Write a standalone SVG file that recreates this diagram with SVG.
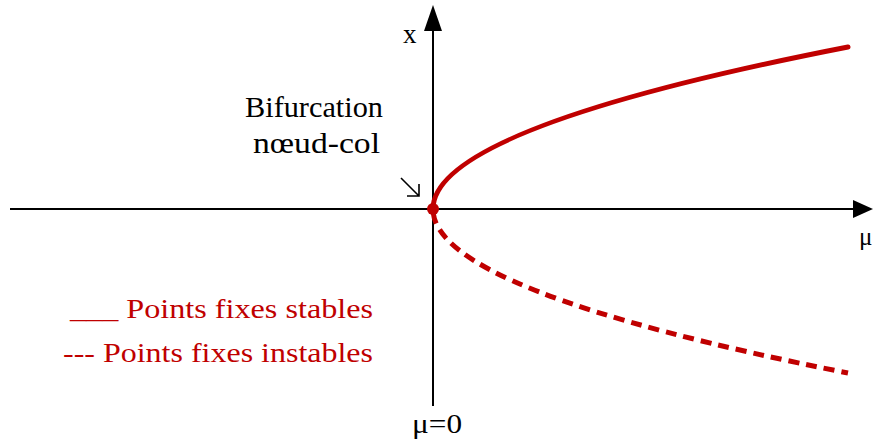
<svg xmlns="http://www.w3.org/2000/svg" width="873" height="443" viewBox="0 0 873 443">
<style>
.ax{stroke:#000;stroke-width:2;fill:none}
.t{font-family:"Liberation Serif","Times New Roman",serif;fill:#000}
.r{fill:#c00000}
.cv{stroke:#c00000;stroke-width:5;fill:none}
</style>
<rect width="873" height="443" fill="#fff"/>
<g id="axes">
<line class="ax" x1="10" y1="209" x2="856" y2="209"/>
<polygon points="853,200 873,209 853,218" fill="#000"/>
<line class="ax" x1="433" y1="406" x2="433" y2="28"/>
<polygon points="424,31 433,5 442,31" fill="#000"/>
</g>
<g id="labels">
<text class="t" x="403" y="43" font-size="27">x</text>
<text class="t" x="859" y="245" font-size="25">μ</text>
<text class="t" x="412" y="433" font-size="27" textLength="50" lengthAdjust="spacingAndGlyphs">μ=0</text>
<text class="t" x="245" y="117" font-size="30" textLength="138" lengthAdjust="spacingAndGlyphs">Bifurcation</text>
<text class="t" x="253" y="153" font-size="30" textLength="127" lengthAdjust="spacingAndGlyphs">nœud-col</text>
</g>
<g id="pointer">
<path d="M401,178 L419,196 M419,184 L419,196 L407,196" stroke="#000" stroke-width="1.6" fill="none"/>
</g>
<g id="curves">
<path class="cv" d="M433,209 Q433,128 848,47" stroke-linecap="round"/>
<path class="cv" d="M433,209 Q433,291 848,373" stroke-dasharray="11,7" stroke-dashoffset="-4"/>
<circle cx="433" cy="209" r="6" fill="#c00000"/>
</g>
<g id="legend">
<text class="t r" x="70" y="318" font-size="28" textLength="303" lengthAdjust="spacingAndGlyphs">___ Points fixes stables</text>
<text class="t r" x="63" y="362" font-size="28" textLength="310" lengthAdjust="spacingAndGlyphs">--- Points fixes instables</text>
</g>
</svg>
